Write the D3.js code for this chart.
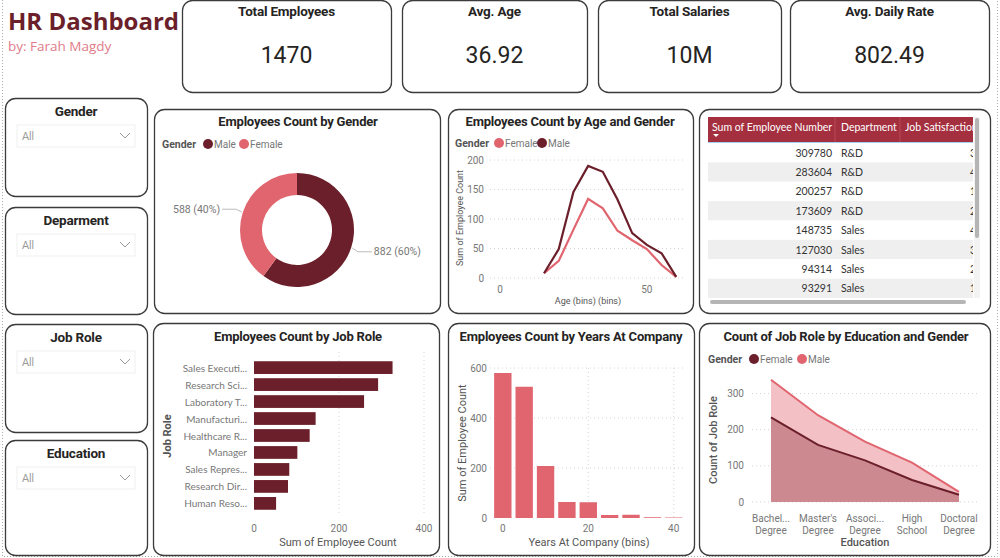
<!DOCTYPE html>
<html>
<head>
<meta charset="utf-8">
<script src="https://cdn.jsdelivr.net/npm/d3@7"></script>
<style>
  body { margin: 0; background: #fff; }
  svg { display: block; }
</style>
</head>
<body>
<div id="dash"></div>
<script>
// data
const kpiLabels = ["Total Employees", "Avg. Age", "Total Salaries", "Avg. Daily Rate"]
const kpiValues = ["1470", "36.92", "10M", "802.49"]

const slicerNames = ["Gender", "Deparment", "Job Role", "Education"]

const genders = ["Male", "Female"]
const genderCounts = [882, 588]

const ageBins = [15, 20, 25, 30, 35, 40, 45, 50, 55, 60]
const ageFemale = [8, 29, 82, 134, 118, 80, 64, 49, 22, 2]
const ageMale = [8, 49, 146, 190, 180, 133, 76, 56, 42, 2]

const tableHeaders = ["Sum of Employee Number", "Department", "Job Satisfaction"]
const tableEmpNumber = [309780, 283604, 200257, 173609, 148735, 127030, 94314, 93291]
const tableDept = ["R&D", "R&D", "R&D", "R&D", "Sales", "Sales", "Sales", "Sales"]
const tableSatisfaction = [3, 4, 1, 2, 4, 3, 2, 1]

const jobRoles = ["Sales Executi...", "Research Sci...", "Laboratory T...", "Manufacturi...",
  "Healthcare R...", "Manager", "Sales Repres...", "Research Dir...", "Human Reso..."]
const jobRoleCounts = [326, 292, 259, 145, 131, 102, 83, 80, 52]

const yearsBins = [0, 5, 10, 15, 20, 25, 30, 35, 40]
const yearsCounts = [580, 525, 208, 64, 63, 12, 13, 3, 2]

const educations = ["Bachel...|Degree", "Master's|Degree", "Associ...|Degree", "High|School", "Doctoral|Degree"]
const eduFemale = [234, 158, 115, 61, 20]
const eduMale = [338, 240, 167, 109, 28]

// stil
const DARK = "#6b1f2a"
const PINK = "#e0656f"
const TITLE_FONT = "Roboto, sans-serif"
const BODY_FONT = "Lato, 'Open Sans', sans-serif"
const TXT = "#252423"
const GREY = "#777"

const svg = d3.select("#dash").append("svg")
    .attr("width", 1000)
    .attr("height", 558)

// okvir stranice
svg.append("path")
    .attr("d", "M2.5,0 V556.5 H997.5 V0")
    .attr("fill", "none")
    .attr("stroke", "#aaa")
    .attr("stroke-dasharray", "1,2")

const box = (x0, y0, x1, y1) => svg.append("rect")
    .attr("x", x0 + 0.5).attr("y", y0 + 0.5)
    .attr("width", x1 - x0).attr("height", y1 - y0)
    .attr("rx", 10)
    .attr("fill", "#fff")
    .attr("stroke", "#3b3b3b")
    .attr("stroke-width", 1.3)

const title = (x, y, t, size = 13) => svg.append("text")
    .attr("x", x).attr("y", y)
    .attr("text-anchor", "middle")
    .attr("dominant-baseline", "central")
    .style("font-family", TITLE_FONT)
    .style("font-weight", 700)
    .style("font-size", size + "px")
    .style("letter-spacing", "-0.2px")
    .style("fill", TXT)
    .text(t)

const label = (x, y, t, opts = {}) => svg.append("text")
    .attr("x", x).attr("y", y)
    .attr("text-anchor", opts.anchor || "start")
    .attr("dominant-baseline", "central")
    .attr("transform", opts.rotate ? `rotate(-90,${x},${y})` : null)
    .style("font-family", opts.font || TITLE_FONT)
    .style("font-weight", opts.weight || 400)
    .style("font-size", (opts.size || 10) + "px")
    .style("fill", opts.color || GREY)
    .text(t)

// naslov
svg.append("text")
    .attr("x", 8).attr("y", 30)
    .style("font-family", "'Open Sans', sans-serif")
    .style("font-weight", 700)
    .style("font-size", "24px")
    .style("fill", DARK)
    .text("HR Dashboard")
svg.append("text")
    .attr("x", 8).attr("y", 51)
    .style("font-family", "'Open Sans', sans-serif")
    .style("font-size", "13.5px")
    .style("fill", "#e07b8a")
    .text("by: Farah Magdy")

// KPI kartice
const kpiBoxes = [[182, 391], [402, 587], [598, 781], [790, 989]]
kpiBoxes.forEach(([x0, x1], i) => {
  box(x0, 0, x1, 92)
  title((x0 + x1) / 2, 11, kpiLabels[i], 13.5)
  svg.append("text")
      .attr("x", (x0 + x1) / 2).attr("y", 55)
      .attr("text-anchor", "middle")
      .attr("dominant-baseline", "central")
      .style("font-family", TITLE_FONT)
      .style("font-size", "23px")
      .style("fill", TXT)
      .text(kpiValues[i])
})

// filteri
const slicerTops = [[98, 196], [207, 314], [324, 432], [440, 555]]
slicerTops.forEach(([y0, y1], i) => {
  box(5, y0, 147, y1)
  title(76, y0 + 12.5, slicerNames[i], 13.5)
  svg.append("rect")
      .attr("x", 17).attr("y", y0 + 27)
      .attr("width", 118).attr("height", 22)
      .attr("fill", "#fff")
      .attr("stroke", "#efefef")
  label(22, y0 + 38, "All", { font: BODY_FONT, size: 10.5, color: "#9a9a9a" })
  svg.append("polyline")
      .attr("points", `${120},${y0 + 35} ${125},${y0 + 40} ${130},${y0 + 35}`)
      .attr("fill", "none")
      .attr("stroke", "#999")
})

const dotGrid = (x1, y1, x2, y2) => svg.append("line")
    .attr("x1", x1).attr("y1", y1).attr("x2", x2).attr("y2", y2)
    .attr("stroke", "#d4d4d4")
    .attr("stroke-dasharray", "1,3")

const legend = (x, y, items) => {
  label(x, y, "Gender", { weight: 700, size: 10.5, color: "#555" })
  items.forEach(it => {
    svg.append("circle").attr("cx", it.x).attr("cy", y).attr("r", 5).attr("fill", it.color)
    label(it.x + 6, y, it.name, { size: 10, color: GREY })
  })
}

// 1. spol - krafna
box(154, 109, 440, 313)
title(298, 121, "Employees Count by Gender")
legend(162, 144, [{ x: 208, name: "Male", color: DARK }, { x: 244, name: "Female", color: PINK }])

const pie = d3.pie().sort(null)(genderCounts)
const arc = d3.arc().innerRadius(35).outerRadius(57)
const donut = svg.append("g").attr("transform", "translate(297,230)")
donut.selectAll("path")
  .data(pie)
  .join("path")
    .attr("d", arc)
    .attr("fill", (d, i) => i === 0 ? DARK : PINK)

const total = d3.sum(genderCounts)
pie.forEach((d, i) => {
  const a = (d.startAngle + d.endAngle) / 2
  const px = Math.sin(a), py = -Math.cos(a)
  const p1 = [297 + 58 * px, 230 + 58 * py]
  const p2 = [297 + 64 * px, 230 + 64 * py + (py < 0 ? -1 : 2)]
  const side = px < 0 ? -1 : 1
  const p3 = [p2[0] + side * 14, p2[1]]
  svg.append("polyline")
      .attr("points", [p1, p2, p3].map(p => p.join(",")).join(" "))
      .attr("fill", "none")
      .attr("stroke", "#bbb")
  label(p3[0] + side * 2, p3[1], `${genderCounts[i]} (${Math.round(genderCounts[i] / total * 100)}%)`,
    { anchor: side < 0 ? "end" : "start", size: 10.5 })
})

// 2. dob i spol - linije
box(448, 109, 693, 313)
title(570, 121, "Employees Count by Age and Gender")
legend(455, 143, [{ x: 499, name: "Female", color: PINK }, { x: 542, name: "Male", color: DARK }])

const ageX = d3.scaleLinear().domain([-3.4, 62.3]).range([490, 683])
const ageY = d3.scaleLinear().domain([0, 200]).range([278, 160])
ageY.ticks(4).forEach(t => {
  dotGrid(490, ageY(t), 683, ageY(t))
  label(484, ageY(t), t, { anchor: "end", size: 10 })
})
;[0, 50].forEach(t => label(ageX(t), 289, t, { anchor: "middle", size: 10 }))
label(588, 301, "Age (bins) (bins)", { anchor: "middle", size: 9, color: "#555" })
label(460, 218, "Sum of Employee Count", { anchor: "middle", size: 9, color: "#555", rotate: true })

const ageLine = vals => d3.line()
  .x((d, i) => ageX(ageBins[i]))
  .y(d => ageY(d))(vals)
svg.append("path").attr("d", ageLine(ageFemale))
    .attr("fill", "none").attr("stroke", PINK).attr("stroke-width", 2.2)
svg.append("path").attr("d", ageLine(ageMale))
    .attr("fill", "none").attr("stroke", DARK).attr("stroke-width", 2.2)

// 3. tablica
box(699, 109, 990, 313)
const tbl = svg.append("g")
svg.append("clipPath").attr("id", "tclip")
  .append("rect").attr("x", 708).attr("y", 117).attr("width", 265).attr("height", 181)
const tg = tbl.append("g").attr("clip-path", "url(#tclip)")
tg.append("rect").attr("x", 708).attr("y", 117).attr("width", 265).attr("height", 25).attr("fill", "#a4303f")
tg.append("line").attr("x1", 708).attr("x2", 973).attr("y1", 142.5).attr("y2", 142.5).attr("stroke", "#9fd2ee")
;[835, 900].forEach(x => tg.append("line").attr("x1", x).attr("x2", x).attr("y1", 117).attr("y2", 142)
  .attr("stroke", "#b84a58"))
const headX = [712, 841, 905]
tableHeaders.forEach((h, i) => tg.append("text")
    .attr("x", headX[i]).attr("y", 127)
    .attr("dominant-baseline", "central")
    .style("font-family", BODY_FONT).style("font-size", "10.5px").style("fill", "#fff")
    .text(h))
tg.append("path").attr("d", "M713,134 L719,134 L716,137 Z").attr("fill", "#fff")

const rowY = d3.scaleBand().domain(d3.range(tableEmpNumber.length)).range([143, 298])
tableEmpNumber.forEach((v, i) => {
  tg.append("rect").attr("x", 708).attr("y", rowY(i)).attr("width", 265).attr("height", rowY.bandwidth())
      .attr("fill", i % 2 ? "#efefef" : "#fff")
  const cy = rowY(i) + rowY.bandwidth() / 2
  tg.append("text").attr("x", 832).attr("y", cy).attr("text-anchor", "end").attr("dominant-baseline", "central")
      .style("font-family", BODY_FONT).style("font-size", "10.5px").style("fill", "#333").text(v)
  tg.append("text").attr("x", 841).attr("y", cy).attr("dominant-baseline", "central")
      .style("font-family", BODY_FONT).style("font-size", "10.5px").style("fill", "#333").text(tableDept[i])
  tg.append("text").attr("x", 976).attr("y", cy).attr("text-anchor", "end").attr("dominant-baseline", "central")
      .style("font-family", BODY_FONT).style("font-size", "10.5px").style("fill", "#333").text(tableSatisfaction[i])
})
// klizaci
svg.append("rect").attr("x", 974).attr("y", 117).attr("width", 6).attr("height", 181).attr("fill", "#f3f3f3")
svg.append("rect").attr("x", 975).attr("y", 118).attr("width", 4).attr("height", 120).attr("rx", 2).attr("fill", "#b5b5b5")
svg.append("rect").attr("x", 710).attr("y", 300).attr("width", 256).attr("height", 4).attr("rx", 2).attr("fill", "#b5b5b5")

// 4. radno mjesto - stupci
box(153, 323, 439, 555)
title(298, 336, "Employees Count by Job Role")
const jobX = d3.scaleLinear().domain([0, 400]).range([254, 424])
const jobY = d3.scaleBand().domain(jobRoles).range([357, 514]).padding(0.25)
;[0, 200, 400].forEach(t => {
  if (t > 0) dotGrid(jobX(t), 352, jobX(t), 516)
  label(jobX(t), 528, t, { anchor: "middle", size: 10 })
})
svg.append("g").selectAll("rect")
  .data(jobRoleCounts)
  .join("rect")
    .attr("x", jobX(0))
    .attr("y", (d, i) => jobY(jobRoles[i]))
    .attr("width", d => jobX(d) - jobX(0))
    .attr("height", jobY.bandwidth())
    .attr("fill", DARK)
jobRoles.forEach(r => label(247, jobY(r) + jobY.bandwidth() / 2, r, { anchor: "end", size: 10, font: BODY_FONT }))
label(338, 542, "Sum of Employee Count", { anchor: "middle", size: 11, color: "#555" })
label(167, 436, "Job Role", { anchor: "middle", size: 11, weight: 700, color: "#555", rotate: true })

// 5. godine u tvrtki - histogram
box(448, 323, 694, 555)
title(571, 336, "Employees Count by Years At Company")
const yrX = d3.scaleLinear().domain([-3, 42.4]).range([490, 684])
const yrY = d3.scaleLinear().domain([0, 600]).range([518, 368])
yrY.ticks(3).forEach(t => {
  if (t > 0) dotGrid(490, yrY(t), 684, yrY(t))
  label(487, yrY(t), t, { anchor: "end", size: 10 })
})
;[20, 40].forEach(t => dotGrid(yrX(t), 368, yrX(t), 518))
;[0, 20, 40].forEach(t => label(yrX(t), 528, t, { anchor: "middle", size: 10 }))
svg.append("g").selectAll("rect")
  .data(yearsCounts)
  .join("rect")
    .attr("x", (d, i) => yrX(yearsBins[i] - 2.5) + 2)
    .attr("y", d => yrY(d))
    .attr("width", yrX(2.5) - yrX(-2.5) - 4)
    .attr("height", d => yrY(0) - yrY(d))
    .attr("fill", PINK)
label(589, 542, "Years At Company (bins)", { anchor: "middle", size: 11, color: "#555" })
label(462, 443, "Sum of Employee Count", { anchor: "middle", size: 11, color: "#555", rotate: true })

// 6. obrazovanje - povrsine
box(699, 323, 990, 555)
title(846, 336, "Count of Job Role by Education and Gender")
legend(708, 359, [{ x: 754, name: "Female", color: DARK }, { x: 802, name: "Male", color: PINK }])
const edX = d3.scalePoint().domain(educations).range([771, 959])
const edY = d3.scaleLinear().domain([0, 300]).range([502, 393.5])
edY.ticks(3).forEach(t => {
  dotGrid(752, edY(t), 978, edY(t))
  label(744, edY(t), t, { anchor: "end", size: 10 })
})
educations.forEach(e => {
  const [a, b] = e.split("|")
  label(edX(e), 518, a, { anchor: "middle", size: 10 })
  label(edX(e), 530, b, { anchor: "middle", size: 10 })
})
const edArea = d3.area().x((d, i) => edX(educations[i])).y0(edY(0)).y1(d => edY(d))
const edLine = d3.line().x((d, i) => edX(educations[i])).y(d => edY(d))
svg.append("path").attr("d", edArea(eduMale)).attr("fill", "#f3c0c5")
svg.append("path").attr("d", edArea(eduFemale)).attr("fill", "#cc8990")
svg.append("path").attr("d", edLine(eduMale)).attr("fill", "none").attr("stroke", PINK).attr("stroke-width", 2)
svg.append("path").attr("d", edLine(eduFemale)).attr("fill", "none").attr("stroke", DARK).attr("stroke-width", 2)
label(865, 542, "Education", { anchor: "middle", size: 11, weight: 500, color: "#555" })
label(713, 440, "Count of Job Role", { anchor: "middle", size: 11, weight: 500, color: "#555", rotate: true })
</script>
</body>
</html>
